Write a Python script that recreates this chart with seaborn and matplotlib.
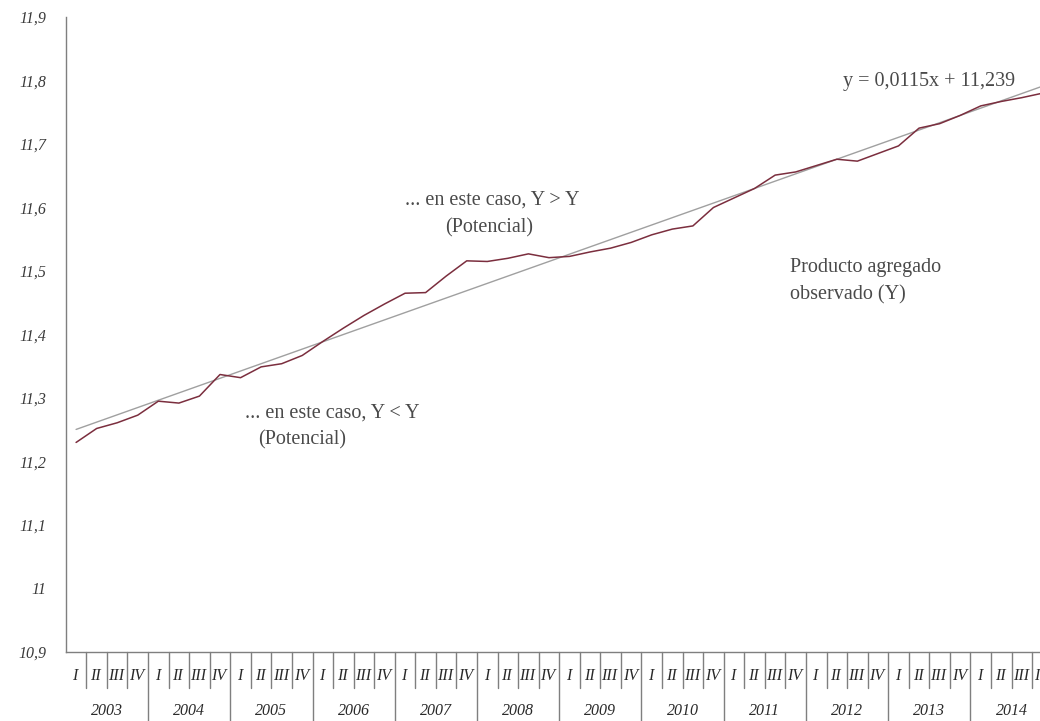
import pandas as pd
import matplotlib.pyplot as plt
import seaborn as sns

# ---------------------------------
# Data (quarterly, 2003 I - 2014 IV)
# ---------------------------------

years = [str(y) for y in range(2003, 2015)]
quarters = ["I", "II", "III", "IV"]

producto = [
    11.230, 11.252, 11.261, 11.273,   # 2003
    11.295, 11.292, 11.303, 11.337,   # 2004
    11.332, 11.349, 11.354, 11.367,   # 2005
    11.389, 11.410, 11.430, 11.448,   # 2006
    11.465, 11.466, 11.492, 11.516,   # 2007
    11.515, 11.520, 11.527, 11.521,   # 2008
    11.523, 11.530, 11.536, 11.545,   # 2009
    11.557, 11.566, 11.571, 11.600,   # 2010
    11.615, 11.630, 11.651, 11.656,   # 2011
    11.666, 11.676, 11.673, 11.685,   # 2012
    11.697, 11.725, 11.732, 11.745,   # 2013
    11.760, 11.767, 11.773, 11.780,   # 2014
]

trend_slope = 0.0115
trend_intercept = 11.239

y_ticks = [10.9, 11.0, 11.1, 11.2, 11.3, 11.4, 11.5, 11.6, 11.7, 11.8, 11.9]
y_tick_labels = ["10,9", "11", "11,1", "11,2", "11,3", "11,4",
                 "11,5", "11,6", "11,7", "11,8", "11,9"]

df = pd.DataFrame({"idx": range(len(producto)), "producto": producto})
df["tendencia"] = trend_intercept + trend_slope * (df["idx"] + 1)

# ---------------------------------
# Plot
# ---------------------------------

sns.set_theme(style="white")
plt.rcParams["font.family"] = ["Liberation Serif", "DejaVu Serif"]

text_color = "#4a4a4a"
axis_color = "#7f7f7f"

fig = plt.figure(figsize=(10.4, 7.21), dpi=100)
ax = fig.add_axes([65.8 / 1040, 69 / 721, 986.9 / 1040, 635 / 721])

sns.lineplot(data=df, x="idx", y="tendencia", ax=ax,
             color="#a0a0a0", linewidth=1.0)
sns.lineplot(data=df, x="idx", y="producto", ax=ax,
             color="#7b2e3e", linewidth=1.1)

ax.set_xlim(-0.5, len(producto) - 0.5)
ax.set_ylim(10.9, 11.9)
ax.set_xlabel("")
ax.set_ylabel("")

sns.despine(ax=ax)
for side in ["left", "bottom"]:
    ax.spines[side].set_color(axis_color)
    ax.spines[side].set_linewidth(1.0)

ax.set_yticks(y_ticks)
ax.set_yticklabels(y_tick_labels, fontstyle="italic", fontsize=11.5, color="#3a3a3a")
ax.tick_params(axis="y", length=0, pad=14)
ax.set_xticks([])

# ---------------------------------
# Quarter / year labels under the axis
# ---------------------------------

trans = ax.get_xaxis_transform()
for yi, year in enumerate(years):
    for qi, q in enumerate(quarters):
        pos = yi * 4 + qi
        ax.text(pos - 0.05, -0.0378, q, transform=trans, ha="center", va="center",
                fontstyle="italic", fontsize=11.5, color="#2a2a2a", clip_on=False)
        if qi > 0:
            ax.plot([pos - 0.5, pos - 0.5], [0, -0.0567], transform=trans,
                    color=axis_color, linewidth=1.0, clip_on=False)
    ax.text(yi * 4 + 1.5, -0.0929, year, transform=trans, ha="center", va="center",
            fontstyle="italic", fontsize=11.5, color="#2a2a2a", clip_on=False)
    if yi > 0:
        ax.plot([yi * 4 - 0.5, yi * 4 - 0.5], [0, -0.12], transform=trans,
                color=axis_color, linewidth=1.0, clip_on=False)

# ---------------------------------
# Annotations
# ---------------------------------

ann = dict(fontsize=14.5, color=text_color, va="center")
ax.text(16.0, 11.612, "... en este caso, Y > Y", **ann)
ax.text(17.94, 11.568, "(Potencial)", **ann)
ax.text(8.22, 11.276, "... en este caso, Y < Y", **ann)
ax.text(8.85, 11.234, "(Potencial)", **ann)
ax.text(34.72, 11.506, "Producto agregado", **ann)
ax.text(34.72, 11.462, "observado (Y)", **ann)
ax.text(37.3, 11.798, "y = 0,0115x + 11,239", **ann)

plt.savefig("out.png", dpi=100)
